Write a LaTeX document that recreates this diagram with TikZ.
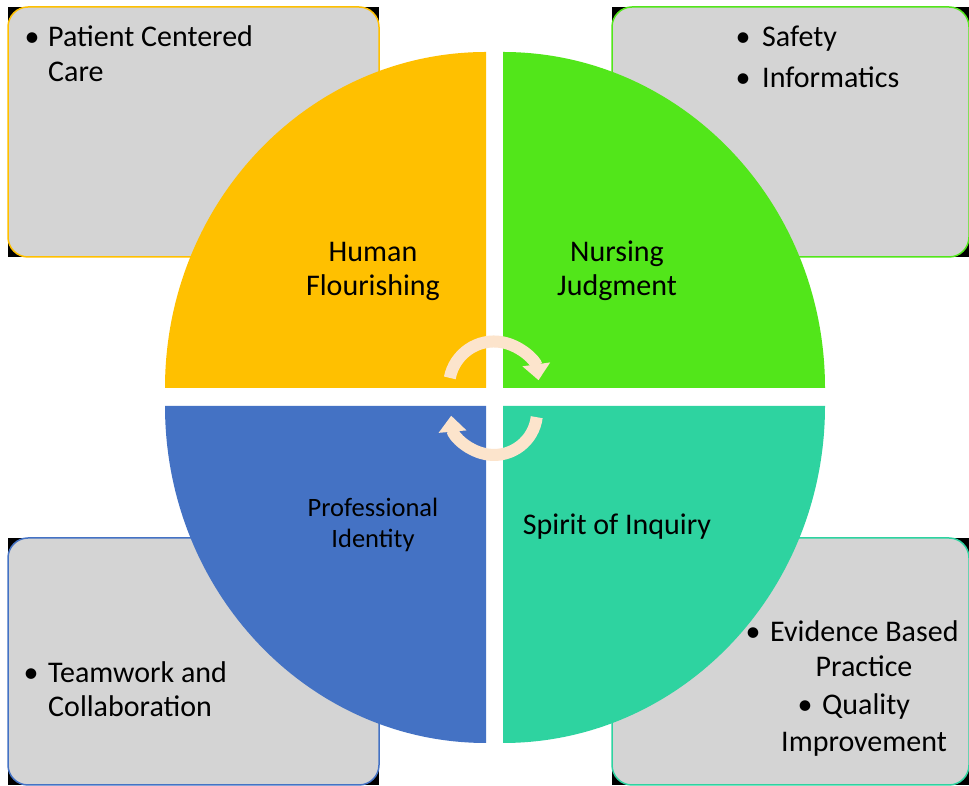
\documentclass[tikz,border=0pt]{standalone}
\usepackage{fontspec}
\setmainfont{Carlito}
\usetikzlibrary{arrows.meta}
\definecolor{qyellow}{RGB}{255,192,0}
\definecolor{qgreen}{RGB}{82,230,26}
\definecolor{qblue}{RGB}{68,114,196}
\definecolor{qteal}{RGB}{46,211,160}
\definecolor{peach}{RGB}{252,228,204}
\definecolor{boxfill}{RGB}{212,212,212}
\begin{document}
\begin{tikzpicture}[x=1pt,y=1pt,
  lbl/.style={inner sep=0pt, anchor=base, font=\fontsize{30}{35}\selectfont},
  lbls/.style={inner sep=0pt, anchor=base, font=\fontsize{26.5}{31}\selectfont},
  txt/.style={inner sep=0pt, anchor=base west, font=\fontsize{30}{35}\selectfont},
  txtc/.style={inner sep=0pt, anchor=base, font=\fontsize{30}{35}\selectfont},
  bul/.style={inner sep=0pt, anchor=base, font=\fontsize{30}{35}\selectfont},
  panel/.style={line width=1.5pt, fill=boxfill, rounded corners=20pt},
  cyc/.style={line width=12pt, draw=peach, -{Triangle[width=27pt,length=16pt]}}]
\useasboundingbox (0,0) rectangle (969,786);
\clip (0,0) rectangle (969,786);
\fill[white] (0,0) rectangle (969,786);

% side panels
\fill[black] (8,529) rectangle (379,779);
\draw[panel, draw=qyellow] (8,529) rectangle (379,779);
\fill[black] (612,529) rectangle (969,779);
\draw[panel, draw=qgreen] (612,529) rectangle (969,779);
\fill[black] (8,1) rectangle (379,248);
\draw[panel, draw=qblue] (8,1) rectangle (379,248);
\fill[black] (612,1) rectangle (969,248);
\draw[panel, draw=qteal] (612,1) rectangle (969,248);

% quadrants
\fill[qyellow] (486,398) -- (165,398) arc[start angle=180,end angle=90,x radius=321pt,y radius=336pt] -- cycle;
\fill[qgreen] (503,398) -- (503,734) arc[start angle=90,end angle=0,x radius=322pt,y radius=336pt] -- cycle;
\fill[qblue] (486,380) -- (165,380) arc[start angle=180,end angle=270,x radius=321pt,y radius=337pt] -- cycle;
\fill[qteal] (503,380) -- (503,43) arc[start angle=270,end angle=360,x radius=322pt,y radius=337pt] -- cycle;

% cycle arrows
\draw[cyc] (449.8,408.1) arc[start angle=169,end angle=8,radius=45pt];
\draw[cyc] (536.7,368.8) arc[start angle=-7,end angle=-175,radius=43pt];

% quadrant labels
\node[lbl] (hf1) at (373,524) {Human};
\node[lbl] (hf2) at (373,490) {Flourishing};
\node[lbl] (nj1) at (617,524) {Nursing};
\node[lbl] (nj2) at (617,490) {Judgment};
\node[lbls] (pi1) at (373,269) {Professional};
\node[lbls] (pi2) at (373,238) {Identity};
\node[lbl] (si) at (617,251) {Spirit of Inquiry};

% panel texts
\node[bul] (b1) at (32,739) {•};
\node[txt] (t1) at (48,739) {Patient Centered};
\node[txt] (t1b) at (48,704) {Care};

\node[bul] (b2) at (743,739) {•};
\node[txt] (t2) at (762,739) {Safety};
\node[bul] (b3) at (743,698) {•};
\node[txt] (t3) at (762,698) {Informatics};

\node[bul] (b4) at (31,103) {•};
\node[txt] (t4) at (48,103) {Teamwork and};
\node[txt] (t4b) at (48,69) {Collaboration};

\node[bul] (b5) at (753,144) {•};
\node[txt] (t5) at (770,144) {Evidence Based};
\node[txtc] (t5b) at (864,109) {Practice};
\node[bul] (b6) at (805,71) {•};
\node[txt] (t6) at (822,71) {Quality};
\node[txtc] (t6b) at (864,34) {Improvement};
\end{tikzpicture}
\end{document}
